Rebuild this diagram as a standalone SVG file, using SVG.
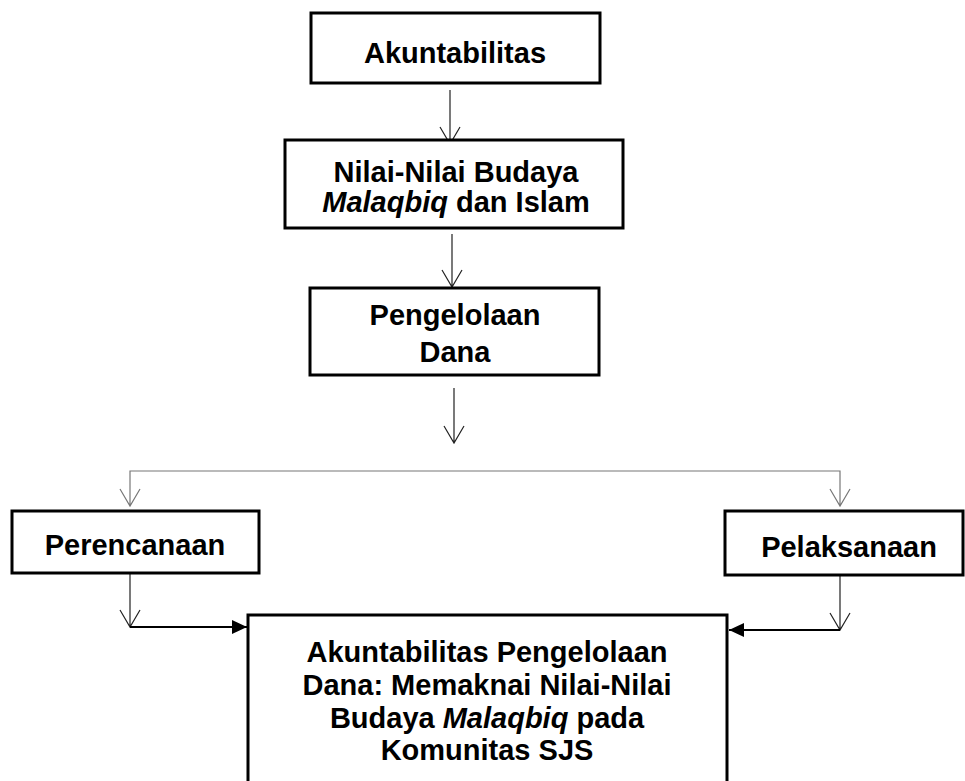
<svg xmlns="http://www.w3.org/2000/svg" width="965" height="781" viewBox="0 0 965 781">
<defs>
<style>
.box{fill:#fff;stroke:#000;stroke-width:3}
.t{font-family:"Liberation Sans",Arial,sans-serif;font-weight:bold;font-size:29px;fill:#000;text-anchor:middle}
.i{font-style:italic}
.thin{fill:none;stroke:#222;stroke-width:1.2}
.gray{fill:none;stroke:#777;stroke-width:1.2}
.thick{fill:none;stroke:#000;stroke-width:2.2}
</style>
<marker id="fa" viewBox="0 0 15 14" refX="15" refY="7" markerWidth="15" markerHeight="14" markerUnits="userSpaceOnUse" orient="auto">
<path d="M0,0 L15,7 L0,14 z" fill="#000"/>
</marker>
</defs>
<rect width="965" height="781" fill="#fff"/>
<g id="connectors">
<path class="thin" d="M450,90 V144 M440,127 L450,144 L460,127"/>
<path class="thin" d="M452,234 V287 M442,270 L452,287 L462,270"/>
<path class="thin" d="M454,388 V443 M444,426 L454,443 L464,426"/>
<path class="gray" d="M130,506 V471 H840 V506 M120,489 L130,506 L140,489 M830,489 L840,506 L850,489"/>
<path class="thin" d="M130,573 V627 M120,610 L130,627 L140,610"/>
<path class="thick" d="M130,627 H247" marker-end="url(#fa)"/>
<path class="thin" d="M840,575 V630 M830,613 L840,630 L850,613"/>
<path class="thick" d="M840,630 H729" marker-end="url(#fa)"/>
</g>
<g id="n1">
<rect class="box" x="311" y="13" width="289" height="70"/>
<text class="t" x="455" y="63">Akuntabilitas</text>
</g>
<g id="n2">
<rect class="box" x="285" y="140" width="338" height="88"/>
<text class="t" x="456" y="182">Nilai-Nilai Budaya</text>
<text class="t" x="456" y="212"><tspan class="i">Malaqbiq</tspan> dan Islam</text>
</g>
<g id="n3">
<rect class="box" x="310" y="288" width="289" height="87"/>
<text class="t" x="455" y="325">Pengelolaan</text>
<text class="t" x="455" y="362">Dana</text>
</g>
<g id="n4">
<rect class="box" x="12" y="511" width="247" height="62"/>
<text class="t" x="135" y="555">Perencanaan</text>
</g>
<g id="n5">
<rect class="box" x="725" y="511" width="238" height="64"/>
<text class="t" x="849" y="557">Pelaksanaan</text>
</g>
<g id="n6">
<rect class="box" x="248" y="615" width="479" height="180"/>
<text class="t" x="487" y="662">Akuntabilitas Pengelolaan</text>
<text class="t" x="487" y="695">Dana: Memaknai Nilai-Nilai</text>
<text class="t" x="487" y="728">Budaya <tspan class="i">Malaqbiq</tspan> pada</text>
<text class="t" x="487" y="760">Komunitas SJS</text>
</g>
</svg>
